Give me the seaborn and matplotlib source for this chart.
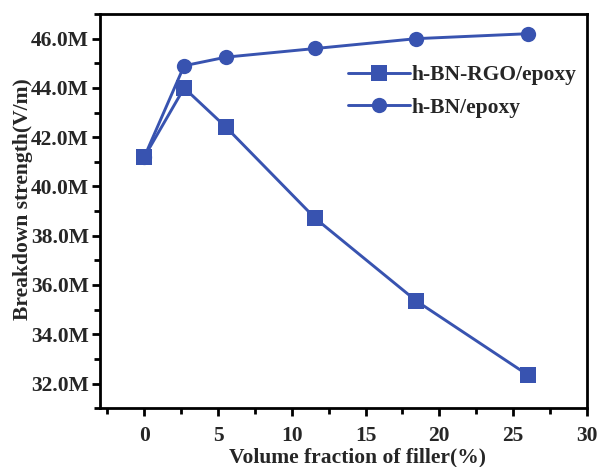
import matplotlib
matplotlib.use("Agg")
import matplotlib.pyplot as plt
from matplotlib.ticker import MultipleLocator, FuncFormatter
import seaborn as sns
import pandas as pd

# Filler content (vol%) and breakdown strength (V/m)
filler_rgo = [0.0, 2.7, 5.55, 11.6, 18.45, 26.0]
strength_rgo = [41.2e6, 44.0e6, 42.4e6, 38.7e6, 35.35e6, 32.35e6]
filler_bn = [0.0, 2.7, 5.55, 11.6, 18.45, 26.0]
strength_bn = [41.2e6, 44.9e6, 45.25e6, 45.6e6, 46.0e6, 46.2e6]
series_names = ["h-BN-RGO/epoxy", "h-BN/epoxy"]

df = pd.concat([
    pd.DataFrame({"filler": filler_rgo, "strength": strength_rgo, "sample": series_names[0]}),
    pd.DataFrame({"filler": filler_bn, "strength": strength_bn, "sample": series_names[1]}),
])

sns.set_theme(style="ticks")
plt.rcParams["font.family"] = ["Liberation Serif", "DejaVu Serif"]
plt.rcParams["font.weight"] = "bold"

blue = "#3853B0"
fig = plt.figure(figsize=(6.03, 4.67), dpi=100)
ax = fig.add_axes([0.166, 0.126, 0.807, 0.844])

sns.lineplot(data=df, x="filler", y="strength", hue="sample", style="sample",
             markers={series_names[0]: "s", series_names[1]: "o"}, dashes=False,
             palette={series_names[0]: blue, series_names[1]: blue},
             linewidth=2.1, markersize=11, markeredgewidth=0, ax=ax, sort=False)

ax.set_xlim(-3, 30)
ax.set_ylim(31e6, 47e6)
ax.xaxis.set_major_locator(MultipleLocator(5))
ax.xaxis.set_minor_locator(MultipleLocator(2.5))
ax.yaxis.set_major_locator(MultipleLocator(2e6))
ax.yaxis.set_minor_locator(MultipleLocator(1e6))
ax.yaxis.set_major_formatter(FuncFormatter(lambda v, p: f"{v/1e6:.1f}M"))

for s in ax.spines.values():
    s.set_linewidth(2.0)
    s.set_color("black")
ax.tick_params(which="major", direction="out", length=6, width=2.0, labelsize=15.5,
               color="black", pad=2)
ax.tick_params(axis="x", which="major", pad=7)
ax.tick_params(which="minor", direction="out", length=4, width=2.0, color="black")
ax.tick_params(top=False, right=False, which="both")
for lab in ax.get_xticklabels() + ax.get_yticklabels():
    lab.set_fontweight("bold")

ax.set_xlabel("Volume fraction of filler(%)", fontsize=15.5, fontweight="bold")
ax.set_ylabel("Breakdown strength(V/m)", fontsize=15.5, fontweight="bold")
ax.xaxis.set_label_coords(0.528, -0.101)
ax.yaxis.set_label_coords(-0.138, 0.53)

leg = ax.legend(loc="upper right", bbox_to_anchor=(1.0, 0.898), frameon=False,
                prop={"size": 15.5, "weight": "bold"}, handlelength=2.9,
                handletextpad=0.05, labelspacing=0.6, borderaxespad=0.1)

fig.savefig("out.png", dpi=100)
